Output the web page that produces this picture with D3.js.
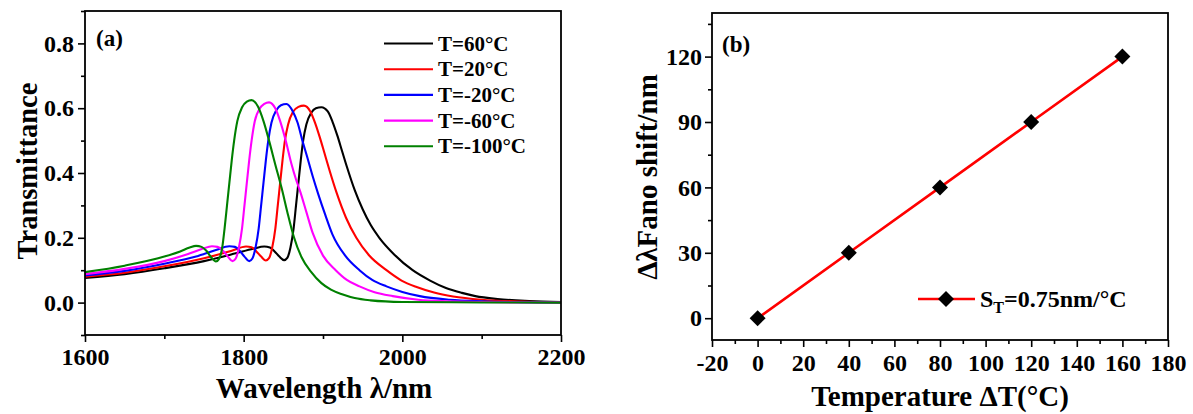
<!DOCTYPE html>
<html><head><meta charset="utf-8">
<script src="https://cdn.jsdelivr.net/npm/d3@7"></script>
<style>body{margin:0;background:#fff}svg{display:block}</style>
</head><body><svg id="c" width="1193" height="414"></svg>
<script>
// ---------- Panel (a) data: transmittance spectra [wavelength nm, T] ----------
const seriesNames = ["T=60°C","T=20°C","T=-20°C","T=-60°C","T=-100°C"];
const seriesColors = ["#000000","#ff0000","#0000ff","#ff00ff","#008000"];
const t60 = [[1600,0.076],[1650,0.088],[1700,0.106],[1750,0.128],[1790,0.152],[1812,0.166],[1826,0.173],[1833,0.170],[1839,0.158],[1845,0.142],[1851,0.131],[1855,0.138],[1859,0.17],[1863,0.23],[1866,0.30],[1869,0.37],[1872,0.44],[1875,0.50],[1879,0.55],[1885,0.585],[1891,0.600],[1898,0.603],[1906,0.59],[1912,0.558],[1918,0.516],[1924,0.468],[1930,0.42],[1940,0.347],[1950,0.288],[1960,0.24],[1971,0.20],[1990,0.148],[2013,0.10],[2035,0.068],[2055,0.045],[2075,0.03],[2092,0.02],[2120,0.011],[2160,0.005],[2200,0.002]];
const t20 = [[1600,0.080],[1650,0.092],[1700,0.112],[1750,0.137],[1785,0.160],[1803,0.173],[1810,0.171],[1816,0.158],[1822,0.142],[1828,0.130],[1832,0.137],[1836,0.17],[1840,0.23],[1843,0.30],[1846,0.37],[1849,0.44],[1852,0.50],[1856,0.55],[1862,0.588],[1869,0.604],[1876,0.608],[1884,0.59],[1890,0.555],[1896,0.51],[1902,0.46],[1908,0.41],[1917,0.34],[1929,0.262],[1942,0.20],[1958,0.146],[1980,0.10],[1999,0.068],[2018,0.048],[2040,0.031],[2064,0.019],[2100,0.009],[2150,0.003],[2200,0.001]];
const tm20 = [[1600,0.084],[1650,0.098],[1700,0.120],[1740,0.142],[1765,0.162],[1782,0.174],[1789,0.172],[1795,0.160],[1801,0.142],[1807,0.128],[1811,0.136],[1815,0.17],[1819,0.23],[1822,0.30],[1825,0.37],[1828,0.44],[1831,0.50],[1835,0.555],[1841,0.593],[1847,0.609],[1854,0.613],[1862,0.59],[1868,0.555],[1874,0.50],[1880,0.45],[1887,0.39],[1894,0.335],[1903,0.27],[1912,0.21],[1928,0.145],[1946,0.10],[1962,0.07],[1980,0.05],[2000,0.033],[2022,0.02],[2060,0.009],[2100,0.004],[2150,0.001],[2200,0.0]];
const tm60 = [[1600,0.088],[1650,0.104],[1700,0.128],[1730,0.150],[1748,0.166],[1760,0.174],[1767,0.172],[1774,0.160],[1780,0.142],[1786,0.128],[1790,0.136],[1794,0.17],[1798,0.23],[1801,0.30],[1804,0.37],[1807,0.44],[1810,0.50],[1814,0.56],[1820,0.598],[1826,0.613],[1832,0.618],[1840,0.599],[1846,0.56],[1853,0.50],[1860,0.43],[1866,0.38],[1871,0.345],[1879,0.28],[1887,0.215],[1900,0.145],[1916,0.10],[1930,0.07],[1946,0.05],[1965,0.032],[1988,0.02],[2020,0.009],[2060,0.004],[2120,0.001],[2200,0.0]];
const tm100 = [[1600,0.094],[1650,0.114],[1700,0.142],[1720,0.158],[1732,0.170],[1740,0.175],[1747,0.172],[1753,0.160],[1759,0.140],[1765,0.127],[1769,0.135],[1773,0.17],[1776,0.23],[1779,0.30],[1782,0.37],[1785,0.44],[1788,0.50],[1792,0.56],[1798,0.603],[1804,0.62],[1810,0.625],[1818,0.605],[1825,0.56],[1832,0.50],[1840,0.425],[1848,0.352],[1855,0.28],[1863,0.205],[1873,0.14],[1885,0.095],[1898,0.06],[1910,0.04],[1925,0.025],[1940,0.014],[1960,0.007],[2000,0.002],[2100,0.0005],[2200,0.0]];
const seriesData = [t60, t20, tm20, tm60, tm100];
const aXTicks = [1600,1800,2000,2200];
const aXMinor = [1700,1900,2100];
const aYTicks = [0.0,0.2,0.4,0.6,0.8];
const aYMinor = [-0.1,0.1,0.3,0.5,0.7,0.9];

// ---------- Panel (b) data ----------
const bTemp = [0,40,80,120,160];
const bShift = [0,30,60,90,120];
const bXTicks = [-20,0,20,40,60,80,100,120,140,160,180];
const bXMinor = [-10,10,30,50,70,90,110,130,150,170];
const bYTicks = [0,30,60,90,120];
const bYMinor = [15,45,75,105,135];

const FONT = "'Liberation Serif','Times New Roman',serif";
const svg = d3.select("#c");

function drawAxes(g, x, y, xt, xm, yt, ym, xfmt, yfmt, xLabY, yLabX){
  const [x0,x1] = x.range(), [y0,y1] = y.range();
  g.append("g").attr("transform",`translate(0,${y0})`)
    .call(d3.axisBottom(x).tickValues(xm).tickSize(4).tickFormat(""))
    .call(s=>s.select(".domain").remove());
  g.append("g").attr("transform",`translate(${x0},0)`)
    .call(d3.axisLeft(y).tickValues(ym).tickSize(4).tickFormat(""))
    .call(s=>s.select(".domain").remove());
  const gx = g.append("g").attr("transform",`translate(0,${y0})`)
    .call(d3.axisBottom(x).tickValues(xt).tickSize(7).tickFormat(xfmt));
  gx.select(".domain").remove();
  gx.selectAll("text").attr("y", xLabY).attr("dy",0);
  const gy = g.append("g").attr("transform",`translate(${x0},0)`)
    .call(d3.axisLeft(y).tickValues(yt).tickSize(7).tickFormat(yfmt));
  gy.select(".domain").remove();
  gy.selectAll("text").attr("x", -yLabX);
  g.selectAll(".tick line").attr("stroke","#000").attr("stroke-width",1.6);
  g.selectAll(".tick text").attr("font-family",FONT).attr("font-weight","bold")
    .attr("font-size",24).attr("fill","#000");
  g.append("rect").attr("x",x0).attr("y",y1).attr("width",x1-x0).attr("height",y0-y1)
    .attr("fill","none").attr("stroke","#000").attr("stroke-width",1.8);
}
const intFmt = d => String(d);

// ---------- Panel (a) ----------
const xa = d3.scaleLinear().domain([1600,2200]).range([85,561]);
const ya = d3.scaleLinear().domain([-0.1,0.9]).range([335,11]);
const ga = svg.append("g");
const line = d3.line().x(d=>xa(d[0])).y(d=>ya(d[1])).curve(d3.curveMonotoneX);
seriesData.forEach((s,i)=>{
  ga.append("path").datum(s).attr("d",line).attr("fill","none")
    .attr("stroke",seriesColors[i]).attr("stroke-width",2.1);
});
drawAxes(ga, xa, ya, aXTicks, aXMinor, aYTicks, aYMinor, intFmt, d3.format(".1f"), 30, 11);

ga.append("text").attr("x",96).attr("y",46).text("(a)")
  .attr("font-family",FONT).attr("font-weight","bold").attr("font-size",23);
seriesNames.forEach((n,i)=>{
  const yy = 43.5 + i*25.7;
  ga.append("line").attr("x1",384).attr("x2",433).attr("y1",yy).attr("y2",yy)
    .attr("stroke",seriesColors[i]).attr("stroke-width",2.1);
  ga.append("text").attr("x",438).attr("y",yy+7).text(n)
    .attr("font-family",FONT).attr("font-weight","bold").attr("font-size",21);
});
ga.append("text").attr("x",324).attr("y",398).attr("text-anchor","middle")
  .text("Wavelength λ/nm").attr("font-family",FONT).attr("font-weight","bold").attr("font-size",29);
ga.append("text").attr("transform","translate(37,171) rotate(-90)").attr("text-anchor","middle")
  .text("Transmittance").attr("font-family",FONT).attr("font-weight","bold").attr("font-size",28.5);

// ---------- Panel (b) ----------
const xb = d3.scaleLinear().domain([-20,180]).range([712,1168]);
const yb = d3.scaleLinear().domain([-10,140]).range([340,13]);
const gb = svg.append("g");
const pts = bTemp.map((t,i)=>[t,bShift[i]]);
gb.append("path").datum(pts)
  .attr("d", d3.line().x(d=>xb(d[0])).y(d=>yb(d[1])))
  .attr("fill","none").attr("stroke","#ff0000").attr("stroke-width",2.6);
const diamond = (cx,cy,r)=>`M${cx},${cy-r}L${cx+r},${cy}L${cx},${cy+r}L${cx-r},${cy}Z`;
gb.selectAll("path.pt").data(pts).join("path").attr("class","pt")
  .attr("d",d=>diamond(xb(d[0]),yb(d[1]),8)).attr("fill","#000");
drawAxes(gb, xb, yb, bXTicks, bXMinor, bYTicks, bYMinor, intFmt, intFmt, 31, 10);

gb.append("text").attr("x",722).attr("y",52).text("(b)")
  .attr("font-family",FONT).attr("font-weight","bold").attr("font-size",23);
gb.append("line").attr("x1",918).attr("x2",975).attr("y1",299).attr("y2",299)
  .attr("stroke","#ff0000").attr("stroke-width",2.6);
gb.append("path").attr("d",diamond(946,299,8)).attr("fill","#000");
const lt = gb.append("text").attr("x",980).attr("y",307)
  .attr("font-family",FONT).attr("font-weight","bold").attr("font-size",24);
lt.append("tspan").text("S");
lt.append("tspan").attr("dy",6).attr("font-size",16).text("T");
lt.append("tspan").attr("dy",-6).text("=0.75nm/°C");
gb.append("text").attr("x",940).attr("y",406).attr("text-anchor","middle")
  .text("Temperature ΔT(°C)").attr("font-family",FONT).attr("font-weight","bold").attr("font-size",29);
gb.append("text").attr("transform","translate(657,177) rotate(-90)").attr("text-anchor","middle")
  .text("ΔλFano shift/nm").attr("font-family",FONT).attr("font-weight","bold").attr("font-size",29);
</script></body></html>
